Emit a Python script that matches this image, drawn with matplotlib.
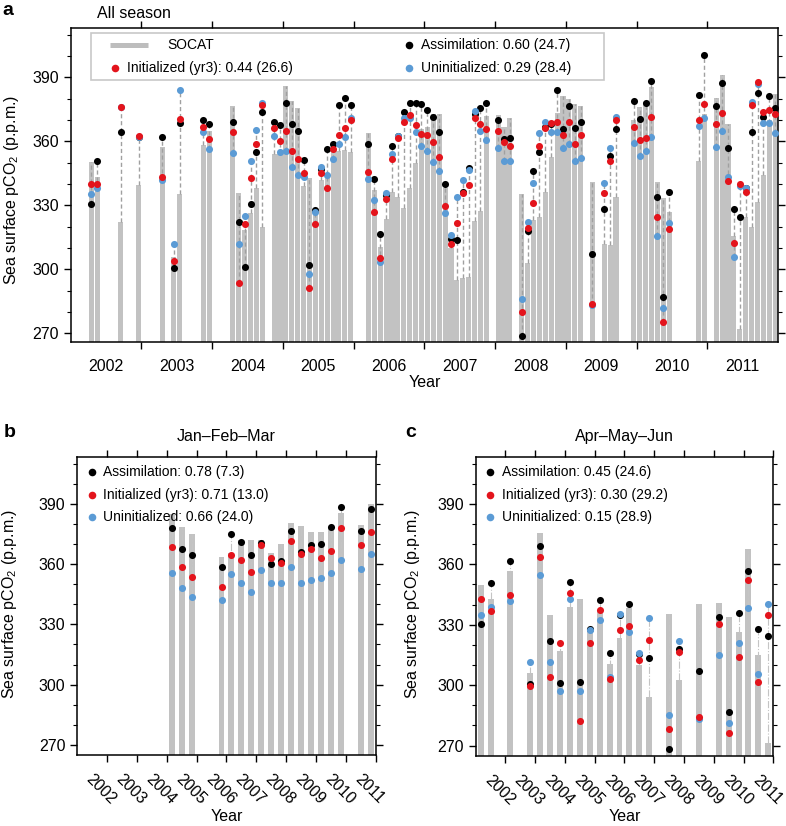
import matplotlib
matplotlib.use("Agg")
import matplotlib.pyplot as plt
from matplotlib.patches import Rectangle
from matplotlib.ticker import MultipleLocator
from matplotlib.transforms import ScaledTranslation
import numpy as np

plt.rcParams["font.family"] = ["Liberation Sans", "DejaVu Sans"]
plt.rcParams["mathtext.default"] = "regular"

BAR = "#c2c2c2"
BLACK = "#000000"
RED = "#e3141c"
BLUE = "#5b9bd5"
DASH = "#a0a0a0"
FS = 11.5
YLABEL = "Sea surface pCO$_2$ (p.p.m.)"

# ---- panel a: monthly values, month index counted from Jan 2002 ----
a_month = [3, 4, 8, 11, 15, 17, 18, 22, 23, 27, 28, 29, 30, 31, 32, 34, 35, 36, 37, 38,
           39, 40, 41, 42, 43, 44, 45, 46, 47, 50, 51, 52, 53, 54, 55, 56, 57, 58, 59, 60,
           61, 62, 63, 64, 65, 66, 67, 68, 69, 70, 72, 73, 74, 76, 77, 78, 79, 80, 81, 82,
           83, 84, 85, 86, 88, 90, 91, 92, 95, 96, 97, 98, 99, 100, 101, 106, 107, 109, 110, 111,
           112, 113, 114, 115, 116, 117, 118, 119]
a_socat = [350.4, 343.4, 322.0, 339.5, 357.5, 306.0, 335.1, 358.3, 364.8, 376.5, 335.9, 318.4, 326.2, 338.3, 320.0, 354.3, 354.3, 385.9, 379.0, 375.5,
           339.0, 342.8, 327.2, 341.9, 344.5, 355.0, 355.5, 356.0, 355.0, 364.0, 337.0, 310.6, 323.4, 336.4, 334.0, 328.6, 338.0, 350.0, 366.0, 366.8,
           373.0, 373.0, 338.3, 310.1, 295.0, 296.0, 296.5, 322.5, 327.5, 372.0, 372.3, 366.8, 370.8, 335.5, 303.2, 323.1, 324.6, 336.4, 352.5, 373.1,
           381.2, 380.1, 377.5, 376.5, 341.0, 311.7, 311.5, 334.0, 370.0, 376.0, 378.6, 385.5, 341.0, 333.6, 327.0, 350.8, 372.8, 380.5, 391.0, 368.0,
           315.6, 272.0, 324.7, 320.0, 331.7, 344.2, 370.0, 382.4]
a_assim = [330.6, 350.9, 364.5, 362.0, 361.9, 300.4, 368.4, 369.8, 368.3, 369.2, 322.0, 301.2, 330.5, 355.0, 373.7, 368.9, 367.5, 377.8, 368.0, 364.8,
           351.5, 302.0, 327.8, 347.0, 356.4, 359.0, 377.0, 380.5, 377.0, 358.7, 342.3, 316.4, 335.0, 357.8, 362.6, 373.9, 378.1, 377.8, 377.5, 374.7,
           371.2, 364.4, 340.0, 314.2, 313.7, 336.4, 347.7, 373.0, 375.5, 377.8, 370.0, 361.0, 361.5, 268.7, 318.0, 346.2, 354.8, 366.9, 368.0, 384.0,
           365.6, 376.5, 366.1, 369.2, 307.2, 328.3, 353.1, 365.8, 379.0, 370.3, 378.1, 388.4, 334.0, 287.2, 336.1, 381.7, 400.5, 376.7, 387.2, 356.7,
           328.3, 324.7, 338.2, 364.5, 382.5, 371.2, 381.2, 375.5]
a_init = [340.0, 340.0, 376.2, 362.3, 343.4, 304.0, 370.3, 366.8, 360.9, 364.5, 293.7, 321.2, 342.6, 359.0, 377.0, 366.1, 360.3, 365.0, 355.6, 351.9,
          345.0, 291.4, 321.2, 345.0, 338.3, 356.4, 363.0, 366.4, 370.0, 345.7, 327.0, 305.5, 332.8, 351.7, 361.4, 368.9, 372.3, 367.6, 363.4, 362.9,
          359.8, 352.8, 329.7, 311.7, 321.5, 335.6, 339.5, 371.1, 368.0, 365.6, 364.8, 359.8, 358.0, 280.2, 319.2, 331.3, 357.8, 366.1, 368.7, 369.2,
          363.0, 369.2, 359.0, 363.0, 283.7, 335.9, 350.9, 370.0, 366.9, 360.6, 361.7, 371.5, 324.7, 275.1, 318.9, 370.0, 377.5, 368.1, 373.4, 341.5,
          312.2, 340.0, 336.1, 377.0, 387.9, 373.6, 374.7, 372.8]
a_uninit = [335.1, 338.3, 376.0, 362.0, 341.8, 311.9, 384.0, 364.5, 356.2, 354.7, 311.9, 325.0, 350.8, 365.3, 377.8, 362.5, 355.1, 355.6, 348.1, 344.2,
            343.1, 297.6, 327.0, 348.1, 344.2, 351.9, 358.6, 362.0, 371.0, 342.2, 332.5, 303.6, 335.6, 353.9, 362.4, 370.8, 370.8, 364.5, 357.9, 355.5,
            350.4, 346.0, 326.5, 316.0, 333.7, 341.9, 346.5, 374.4, 365.0, 360.6, 357.0, 350.8, 351.0, 286.0, 322.2, 340.5, 364.0, 369.2, 364.5, 364.5,
            357.0, 358.6, 350.8, 352.0, 283.5, 340.6, 357.0, 371.5, 359.4, 353.1, 355.6, 362.2, 315.8, 281.7, 321.5, 367.2, 370.8, 357.5, 364.8, 343.4,
            305.9, 339.0, 338.3, 378.6, 386.9, 368.4, 368.4, 364.0]
a_years = list(range(2002, 2012))

# ---- panels b, c: slot = 3 * (year - 2002) + month within the season ----
b_slot = [9, 10, 11, 14, 15, 16, 17, 18, 19, 20, 21, 22, 23, 24, 25, 26, 28, 29]
b_socat = [385.0, 378.6, 374.8, 363.3, 365.3, 371.9, 371.9, 371.9, 365.6, 370.0, 380.2, 379.0, 375.7, 376.0, 378.6, 385.2, 379.4, 390.0]
b_assim = [378.1, 367.6, 364.5, 358.7, 374.7, 371.1, 364.5, 370.6, 359.8, 361.5, 376.4, 366.1, 369.3, 370.0, 378.2, 388.5, 376.5, 387.2]
b_init = [368.6, 358.7, 353.7, 348.7, 364.5, 362.2, 356.0, 369.3, 363.0, 360.5, 371.6, 364.9, 367.6, 362.8, 366.6, 377.7, 369.3, 375.8]
b_uninit = [355.4, 347.9, 343.8, 342.1, 355.0, 350.4, 345.9, 357.0, 350.6, 350.8, 358.3, 350.6, 352.0, 352.9, 355.7, 362.0, 357.5, 365.0]

c_slot = [0, 1, 3, 5, 6, 7, 8, 9, 10, 11, 12, 13, 14, 15, 16, 17, 19, 20, 22, 24, 25, 26, 27, 28, 29]
c_socat = [349.6, 342.6, 356.5, 306.0, 375.7, 335.0, 316.9, 338.8, 342.8, 327.2, 336.8, 310.6, 323.4, 338.3, 310.1, 294.0, 335.5, 302.6, 340.1,
           340.8, 333.6, 326.3, 367.5, 315.1, 271.3]
c_assim = [330.5, 350.7, 361.8, 300.5, 369.1, 322.0, 301.2, 351.2, 301.5, 327.7, 342.4, 315.9, 335.0, 340.1, 315.4, 313.6, 268.5, 318.0, 306.8,
           333.6, 286.7, 335.8, 356.5, 328.0, 324.4]
c_init = [342.8, 337.0, 344.9, 299.5, 363.6, 304.0, 320.9, 345.6, 282.4, 320.9, 337.3, 303.3, 327.5, 329.2, 312.6, 322.5, 278.3, 316.7, 284.4,
          330.3, 276.5, 314.1, 352.2, 301.8, 334.6]
c_uninit = [335.0, 338.8, 341.8, 311.4, 354.5, 311.4, 297.2, 342.6, 297.2, 327.2, 332.2, 304.0, 335.3, 326.3, 315.9, 333.1, 285.2, 321.9, 283.3,
            315.2, 281.3, 320.9, 338.5, 305.6, 340.1]
season_years = list(range(2002, 2012))


def _style_y(ax, ylim):
    ax.set_ylim(*ylim)
    ax.set_yticks([270, 300, 330, 360, 390])
    ax.yaxis.set_minor_locator(MultipleLocator(10))
    ax.tick_params(axis="y", which="both", direction="out", left=True, right=True, labelsize=FS)
    ax.tick_params(axis="y", which="major", length=5, width=1)
    ax.tick_params(axis="y", which="minor", length=2.6, width=0.8)
    for sp in ax.spines.values():
        sp.set_linewidth(1.1)


def _marks(ax, x, socat, assim, init, uninit, width, s, line_kw):
    vals = np.vstack([socat, assim, init, uninit])
    ax.bar(x, socat, width=width, color=BAR, zorder=1, linewidth=0)
    ax.vlines(x, vals.min(axis=0), vals.max(axis=0), zorder=2, **line_kw)
    ax.scatter(x, assim, s=s, color=BLACK, linewidths=0, zorder=3)
    ax.scatter(x, uninit, s=s, color=BLUE, linewidths=0, zorder=4)
    ax.scatter(x, init, s=s, color=RED, linewidths=0, zorder=5)


def panel_a(fig):
    ax = fig.add_axes([0.090, 0.5856, 0.900, 0.3801])
    x = 2002 + (np.array(a_month) + 0.5) / 12
    _marks(ax, x, a_socat, a_assim, a_init, a_uninit, 0.86 / 12, 26,
           dict(colors=DASH, linestyles=(0, (3, 2)), linewidth=1.0))
    ax.set_xlim(2002, 2012)
    _style_y(ax, (265.8, 413))
    ax.set_xticks(range(2003, 2012))
    ax.set_xticklabels([])
    ax.set_xticks(np.array(a_years) + 0.5, minor=True)
    ax.set_xticklabels([str(y) for y in a_years], minor=True)
    ax.tick_params(axis="x", which="major", direction="out", top=True, bottom=True, length=5, width=1)
    ax.tick_params(axis="x", which="minor", length=0, pad=12, labelsize=FS)
    ax.set_xlabel("Year", fontsize=FS, labelpad=1)

    # legend drawn by hand to keep its odd spacing
    tr = ax.transAxes
    ax.add_patch(Rectangle((0.0283, 0.835), 0.725, 0.150, transform=tr, facecolor="white",
                           edgecolor="#c8c8c8", linewidth=1.2, zorder=10))
    ax.plot([0.0557, 0.109], [0.948, 0.948], transform=tr, color="#bdbdbd", lw=3.6,
            solid_capstyle="butt", zorder=11)
    ax.text(0.136, 0.948, "SOCAT", transform=tr, fontsize=10, va="center", zorder=11)
    rows = [(0.0628, 0.8726, RED, "Initialized (yr3): 0.44 (26.6)"),
            (0.4787, 0.948, BLACK, "Assimilation: 0.60 (24.7)"),
            (0.4787, 0.8726, BLUE, "Uninitialized: 0.29 (28.4)")]
    for lx, ly, col, lab in rows:
        ax.scatter([lx], [ly], s=30, color=col, linewidths=0, transform=tr, zorder=11)
        ax.text(lx + 0.0166, ly, lab, transform=tr, fontsize=10, va="center", zorder=11)


def panel_season(fig, rect, slot, socat, assim, init, uninit, labels):
    ax = fig.add_axes(rect)
    x = 2001 + (np.array(slot) + 0.5) / 3
    _marks(ax, x, socat, assim, init, uninit, 0.2, 26,
           dict(colors="#c4c4c4", linestyles="-.", linewidth=0.8))
    ax.set_xlim(2001, 2011)
    _style_y(ax, (265.0, 413.1))
    ax.set_xticks(season_years)
    ax.tick_params(axis="x", which="major", direction="out", top=True, bottom=True, length=5,
                   width=1, pad=7, labelsize=FS)
    ax.set_xticklabels([str(y) for y in season_years], rotation=-45, ha="center")
    # nudge the slanted year labels a little to the left, as in the source figure
    shift = ScaledTranslation(-6 / 100, 0, fig.dpi_scale_trans)
    for lab in ax.get_xticklabels():
        lab.set_transform(lab.get_transform() + shift)
    ax.set_xlabel("Year", fontsize=FS, labelpad=1)
    tr = ax.transAxes
    for ly, col, lab in zip([0.9516, 0.8733, 0.8005], [BLACK, RED, BLUE], labels):
        ax.scatter([0.048], [ly], s=30, color=col, linewidths=0, transform=tr, zorder=11)
        ax.text(0.0875, ly, lab, transform=tr, fontsize=10, va="center", zorder=11)
    return ax


def main() -> None:
    fig = plt.figure(figsize=(7.86, 8.26), dpi=100)
    W, H = 786.0, 826.0

    panel_a(fig)
    panel_season(fig, [0.0983, 0.0860, 0.3797, 0.3604], b_slot, b_socat, b_assim, b_init, b_uninit,
                 ["Assimilation: 0.78 (7.3)", "Initialized (yr3): 0.71 (13.0)", "Uninitialized: 0.66 (24.0)"])
    panel_season(fig, [0.6052, 0.0851, 0.3786, 0.3613], c_slot, c_socat, c_assim, c_init, c_uninit,
                 ["Assimilation: 0.45 (24.6)", "Initialized (yr3): 0.30 (29.2)", "Uninitialized: 0.15 (28.9)"])

    fig.text(2 / W, 1 - 15 / H, "a", fontsize=14, fontweight="bold", va="baseline")
    fig.text(4 / W, 1 - 437 / H, "b", fontsize=14, fontweight="bold", va="baseline")
    fig.text(405 / W, 1 - 437 / H, "c", fontsize=14, fontweight="bold", va="baseline")
    fig.text(97 / W, 1 - 13 / H, "All season", fontsize=FS, va="center")
    fig.text(226.5 / W, 1 - 436.7 / H, "Jan\u2013Feb\u2013Mar", fontsize=FS, ha="center", va="center")
    fig.text(624.5 / W, 1 - 436.7 / H, "Apr\u2013May\u2013Jun", fontsize=FS, ha="center", va="center")
    for xp, yp in [(12, 190), (10, 604), (413, 604)]:
        fig.text(xp / W, 1 - yp / H, YLABEL, fontsize=FS, rotation=90, ha="center", va="center")

    fig.savefig("out.png", dpi=100)
    plt.close(fig)


if __name__ == "__main__":
    main()
